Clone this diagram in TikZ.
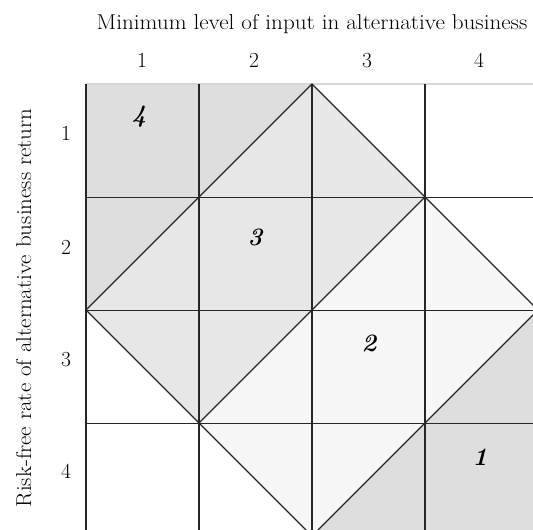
\documentclass[tikz,border=0pt]{standalone}
\begin{document}
\begin{tikzpicture}[x=1pt,y=-1pt,
  lab/.style={inner sep=0pt, font=\fontsize{21.5}{25}\selectfont},
  reg/.style={inner sep=0pt, font=\fontsize{25}{29}\selectfont\bfseries\itshape},
  vline/.style={line width=2pt, draw=black!85},
  hline/.style={line width=1pt, draw=black!85},
  dline/.style={line width=1.3pt, draw=black!85, line join=miter}]
\useasboundingbox (0,0) rectangle (533,530);
\begin{scope}
\clip (0,0) rectangle (533,530);
\coordinate (TL) at (86,84);
\coordinate (TR) at (538,84);
\coordinate (BL) at (86,536);
\coordinate (BR) at (538,536);
\coordinate (T) at (312,84);
\coordinate (R) at (538,310);
\coordinate (B) at (312,536);
\coordinate (L) at (86,310);
\coordinate (M1) at (199,423);
\coordinate (M2) at (425,197);
% fills
\fill[fill={rgb,255:red,222;green,222;blue,222}] (TL) -- (T) -- (L) -- cycle;
\fill[fill={rgb,255:red,222;green,222;blue,222}] (R) -- (BR) -- (B) -- cycle;
\fill[fill={rgb,255:red,231;green,231;blue,231}] (T) -- (M2) -- (M1) -- (L) -- cycle;
\fill[fill={rgb,255:red,247;green,247;blue,247}] (M2) -- (R) -- (B) -- (M1) -- cycle;
% top light line
\draw[line width=1.5pt, draw={rgb,255:red,215;green,215;blue,215}] (TL) -- (533,84);
% horizontal lines
\foreach \y in {197,310,423} \draw[hline] (86,\y) -- (538,\y);
% vertical lines
\foreach \x in {86,199,312,425} \draw[vline] (\x,84) -- (\x,536);
% diagonals
\draw[dline] (T) -- (R) -- (B) -- (L) -- cycle;
\draw[dline] (M1) -- (M2);
\end{scope}
% labels
\node[lab, anchor=base] (title) at (312,29) {\scalebox{1.075}[1]{Minimum level of input in alternative business}};
\node[lab, anchor=base] (c1) at (142,67) {1};
\node[lab, anchor=base] (c2) at (254,67) {2};
\node[lab, anchor=base] (c3) at (367,67) {3};
\node[lab, anchor=base] (c4) at (479,67) {4};
\node[lab, anchor=base] (r1) at (66,140) {1};
\node[lab, anchor=base] (r2) at (66,254) {2};
\node[lab, anchor=base] (r3) at (66,366) {3};
\node[lab, anchor=base] (r4) at (66,478) {4};
\node[lab, anchor=base, rotate=90] (ylab) at (31,308) {\scalebox{1.07}[1]{Risk-free rate of alternative business return}};
\node[reg] (g4) at (139,117) {4};
\node[reg] (g3) at (255,237) {3};
\node[reg] (g2) at (369,343) {2};
\node[reg] (g1) at (480,457) {1};
\end{tikzpicture}
\end{document}
